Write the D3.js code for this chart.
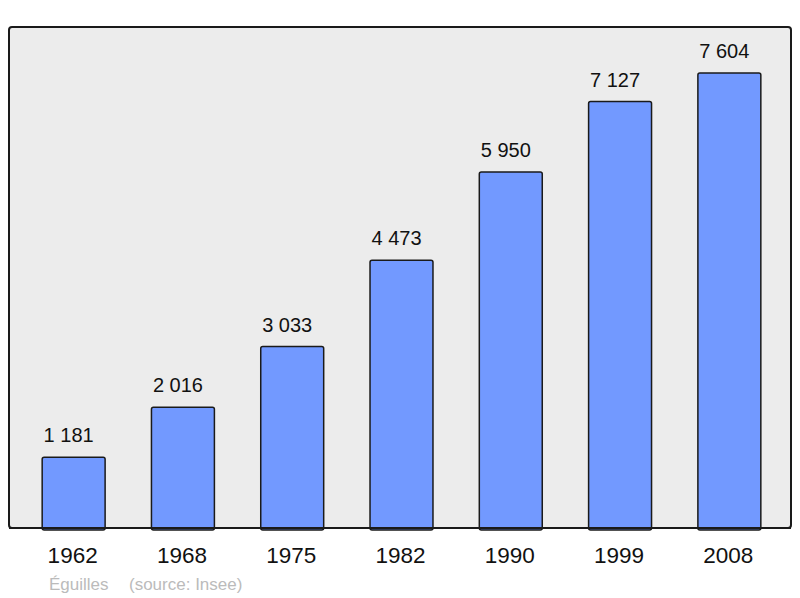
<!DOCTYPE html>
<html>
<head>
<meta charset="utf-8">
<script src="https://cdn.jsdelivr.net/npm/d3@7"></script>
<style>
  body { margin: 0; background: #fff; }
  text { font-family: "Liberation Sans", Arial, sans-serif; }
</style>
</head>
<body>
<svg id="chart" width="800" height="598"></svg>
<script>
const years = ["1962", "1968", "1975", "1982", "1990", "1999", "2008"];
const population = [1181, 2016, 3033, 4473, 5950, 7127, 7604];
const labels = ["1 181", "2 016", "3 033", "4 473", "5 950", "7 127", "7 604"];

const svg = d3.select("#chart");

// frame
svg.append("rect")
  .attr("x", 9).attr("y", 27)
  .attr("width", 782).attr("height", 501)
  .attr("rx", 3)
  .attr("fill", "#ececec")
  .attr("stroke", "#1a1a1a")
  .attr("stroke-width", 2);

const x = d3.scaleBand()
  .domain(years)
  .range([19, 784])
  .paddingInner(0.424)
  .paddingOuter(0.212);

const y = d3.scaleLinear()
  .domain([0, 7604])
  .range([528, 73]);

const g = svg.append("g");

g.selectAll("rect.bar")
  .data(years)
  .enter().append("rect")
  .attr("class", "bar")
  .attr("x", d => x(d))
  .attr("y", (d, i) => y(population[i]))
  .attr("width", x.bandwidth())
  .attr("height", (d, i) => y(0) - y(population[i]) + 2)
  .attr("rx", 2)
  .attr("fill", "#7299ff")
  .attr("stroke", "#1a1a1a")
  .attr("stroke-width", 1.5);

// redraw bottom frame line over bars
svg.append("line")
  .attr("x1", 9).attr("x2", 791)
  .attr("y1", 528).attr("y2", 528)
  .attr("stroke", "#1a1a1a")
  .attr("stroke-width", 2);

g.selectAll("text.val")
  .data(years)
  .enter().append("text")
  .attr("class", "val")
  .attr("x", d => x(d) + x.bandwidth() / 2 - 5)
  .attr("y", (d, i) => y(population[i]) - 15)
  .attr("text-anchor", "middle")
  .attr("font-size", 20)
  .attr("fill", "#111")
  .text((d, i) => labels[i]);

// year axis
const axis = d3.axisBottom(x).tickSize(0).tickPadding(0);
const ax = svg.append("g")
  .attr("transform", "translate(0,542)")
  .call(axis);
ax.select(".domain").remove();
ax.selectAll("text")
  .attr("font-size", 22.5)
  .attr("fill", "#111")
  .attr("dy", "0.95em")
  .attr("dx", -1)
  .style("font-family", "\"Liberation Sans\", Arial, sans-serif");

svg.append("text")
  .attr("x", 49).attr("y", 590)
  .attr("font-size", 17)
  .attr("fill", "#bbbbbb")
  .text("Éguilles");
svg.append("text")
  .attr("x", 129).attr("y", 590)
  .attr("font-size", 17)
  .attr("fill", "#bbbbbb")
  .text("(source: Insee)");
</script>
</body>
</html>
